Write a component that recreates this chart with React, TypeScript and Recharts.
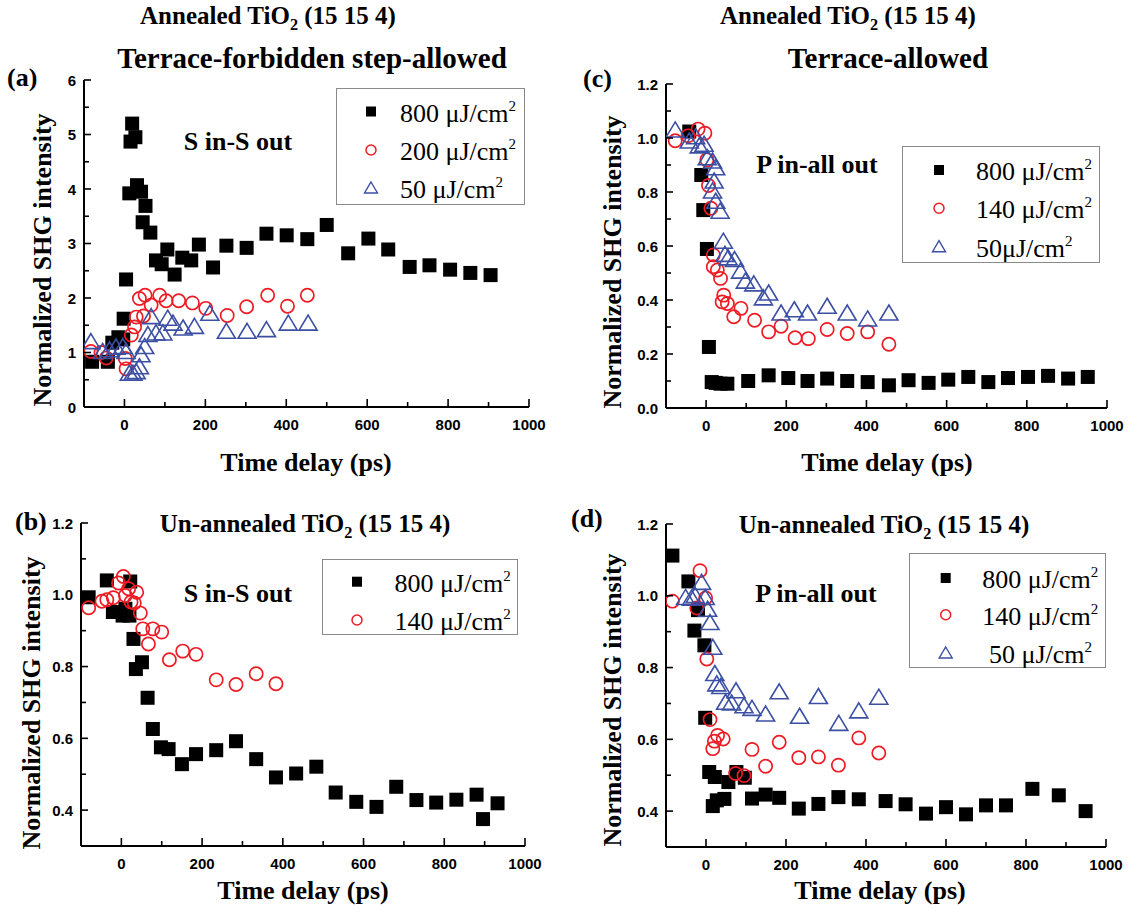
import React from 'react';
import { Legend, Scatter, ScatterChart, XAxis, YAxis } from 'recharts';

const RED = '#ED1C24';
const BLUE = '#3B4FA3';
const SERIF = '"Liberation Serif", "Times New Roman", serif';
const SANS = '"Liberation Sans", Arial, sans-serif';

// room reserved for the axes; subtracted from the panel margins below
const Y_AXIS_W = 40;
const X_AXIS_H = 30;

// shared time axis (ps)
const TIME_TICKS = [0, 100, 200, 300, 400, 500, 600, 700, 800, 900, 1000];
const A_Y_TICKS = [0, 0.5, 1, 1.5, 2, 2.5, 3, 3.5, 4, 4.5, 5, 5.5, 6];
const C_Y_TICKS = [0, 0.1, 0.2, 0.3, 0.4, 0.5, 0.6, 0.7, 0.8, 0.9, 1.0, 1.1, 1.2];
const BD_Y_TICKS = [0.4, 0.5, 0.6, 0.7, 0.8, 0.9, 1.0, 1.1, 1.2];

// (a) annealed, S in-S out
const A_T_800 = [-80, -41, -30, -15, -3, -2, 4, 12, 15, 19, 27, 31, 41, 45, 52, 64, 78, 92, 106, 124, 143, 165, 184, 219, 252, 302, 351, 401, 452, 500, 553, 603, 652, 705, 754, 805, 855, 905];
const A_I_800 = [0.83, 0.83, 1.18, 1.28, 1.24, 1.62, 2.34, 3.92, 4.87, 5.2, 4.95, 4.07, 3.95, 3.39, 3.69, 3.2, 2.69, 2.62, 2.89, 2.43, 2.74, 2.69, 2.98, 2.56, 2.96, 2.92, 3.18, 3.15, 3.08, 3.34, 2.82, 3.09, 2.89, 2.57, 2.6, 2.52, 2.46, 2.42];
const A_T_200 = [-83, -58, -45, 2, 4, 17, 25, 29, 37, 47, 51, 66, 87, 103, 134, 168, 201, 254, 302, 354, 403, 452];
const A_I_200 = [1.02, 1.0, 0.9, 0.89, 0.7, 1.32, 1.47, 1.65, 1.99, 1.67, 2.05, 1.87, 2.05, 1.95, 1.95, 1.91, 1.81, 1.68, 1.84, 2.05, 1.85, 2.05];
const A_T_50 = [-83, -54, -37, -21, -4, 4, 12, 21, 29, 37, 41, 50, 58, 66, 78, 95, 107, 120, 145, 173, 211, 252, 303, 351, 405, 454];
const A_I_50 = [1.19, 1.01, 1.04, 1.09, 1.1, 1.01, 0.61, 0.61, 0.64, 0.73, 0.95, 1.1, 1.32, 1.65, 1.35, 1.35, 1.62, 1.53, 1.44, 1.47, 1.71, 1.38, 1.38, 1.41, 1.53, 1.53];

// (c) annealed, P in-all out
const C_T_800 = [-42, -12, -7, 2, 7, 14, 24, 36, 53, 105, 156, 205, 253, 302, 352, 403, 456, 505, 555, 604, 654, 704, 753, 803, 853, 903, 952];
const C_I_800 = [1.024, 0.863, 0.733, 0.589, 0.226, 0.096, 0.093, 0.09, 0.09, 0.1, 0.121, 0.111, 0.1, 0.109, 0.1, 0.096, 0.084, 0.103, 0.093, 0.105, 0.115, 0.096, 0.111, 0.115, 0.119, 0.109, 0.115];
const C_T_140 = [-77, -45, -20, -3, 2, 6, 12, 18, 18, 28, 36, 44, 40, 53, 69, 87, 121, 156, 187, 222, 255, 302, 352, 403, 456];
const C_I_140 = [0.99, 1.008, 1.033, 1.018, 0.919, 0.824, 0.74, 0.567, 0.523, 0.511, 0.48, 0.418, 0.393, 0.387, 0.338, 0.369, 0.325, 0.282, 0.303, 0.26, 0.257, 0.291, 0.276, 0.282, 0.236];
const C_T_50 = [-77, -42, -26, -17, -5, 3, 16, 24, 20, 16, 24, 35, 43, 47, 55, 71, 86, 98, 119, 143, 156, 187, 220, 253, 302, 352, 403, 456];
const C_I_50 = [1.028, 0.987, 1.003, 0.969, 0.975, 0.925, 0.913, 0.888, 0.839, 0.802, 0.764, 0.727, 0.616, 0.567, 0.554, 0.548, 0.505, 0.468, 0.458, 0.406, 0.424, 0.35, 0.362, 0.35, 0.375, 0.35, 0.328, 0.35];

// (b) un-annealed, S in-S out
const B_T_800 = [-81, -36, -21, 3, 10, 22, 20, 30, 36, 51, 65, 78, 98, 117, 150, 185, 235, 284, 334, 383, 433, 483, 531, 582, 632, 681, 731, 780, 830, 880, 896, 932];
const B_I_800 = [0.993, 1.04, 0.952, 0.942, 0.961, 1.037, 0.942, 0.877, 0.793, 0.812, 0.713, 0.626, 0.575, 0.57, 0.528, 0.556, 0.567, 0.592, 0.542, 0.491, 0.502, 0.521, 0.449, 0.423, 0.409, 0.465, 0.428, 0.421, 0.429, 0.443, 0.375, 0.419];
const B_T_140 = [-81, -48, -36, -20, -7, 5, 10, 18, 24, 32, 38, 47, 53, 67, 78, 100, 119, 152, 185, 235, 284, 334, 383];
const B_I_140 = [0.964, 0.982, 0.986, 0.992, 1.033, 1.051, 0.998, 1.017, 0.98, 0.977, 1.007, 0.949, 0.905, 0.863, 0.905, 0.896, 0.819, 0.843, 0.834, 0.763, 0.75, 0.78, 0.752];

// (d) un-annealed, P in-all out
const D_T_800 = [-84, -44, -29, -20, -4, -2, 8, 22, 17, 27, 46, 56, 76, 97, 115, 149, 183, 232, 281, 331, 382, 449, 499, 550, 600, 650, 700, 750, 816, 882, 949];
const D_I_800 = [1.112, 1.04, 0.903, 0.96, 0.862, 0.66, 0.509, 0.495, 0.414, 0.43, 0.434, 0.481, 0.509, 0.493, 0.435, 0.446, 0.437, 0.407, 0.42, 0.439, 0.433, 0.428, 0.419, 0.393, 0.411, 0.391, 0.416, 0.416, 0.462, 0.444, 0.4];
const D_T_140 = [-84, -23, -15, -1, 2, 10, 17, 21, 29, 43, 74, 95, 115, 149, 183, 232, 281, 331, 382, 432];
const D_I_140 = [0.985, 0.966, 1.07, 0.994, 0.824, 0.655, 0.574, 0.595, 0.611, 0.601, 0.505, 0.499, 0.572, 0.525, 0.592, 0.549, 0.551, 0.528, 0.604, 0.562];
const D_T_50 = [-51, -36, -27, -11, -2, 4, 10, 17, 22, 27, 37, 49, 64, 75, 95, 115, 149, 183, 234, 281, 332, 382, 432];
const D_I_50 = [0.994, 0.992, 0.999, 1.036, 0.994, 0.961, 0.924, 0.855, 0.782, 0.753, 0.746, 0.702, 0.7, 0.734, 0.692, 0.685, 0.669, 0.731, 0.663, 0.718, 0.643, 0.678, 0.716];

const zip = (xs: number[], ys: number[]) => xs.map((x, i) => ({ x, y: ys[i] }));

type Kind = 'square' | 'circle' | 'triangle';

const SquareDot = (p: any) => <rect x={p.cx - 7} y={p.cy - 7} width={14} height={14} fill="#000" />;
const CircleDot = (p: any) => <circle cx={p.cx} cy={p.cy} r={6.6} fill="none" stroke={RED} strokeWidth={1.7} />;
const TriangleDot = (p: any) => (
  <path d={`M${p.cx},${p.cy - 8.5}L${p.cx + 9},${p.cy + 6.5}L${p.cx - 9},${p.cy + 6.5}Z`} fill="none" stroke={BLUE} strokeWidth={1.6} />
);
const SHAPES: Record<Kind, (p: any) => React.ReactElement> = { square: SquareDot, circle: CircleDot, triangle: TriangleDot };

function LegendMark({ kind, x, y }: { kind: Kind; x: number; y: number }) {
  if (kind === 'square') return <rect x={x - 5} y={y - 5} width={10} height={10} fill="#000" />;
  if (kind === 'circle') return <circle cx={x} cy={y} r={5} fill="none" stroke={RED} strokeWidth={1.5} />;
  return <path d={`M${x},${y - 6}L${x + 6.5},${y + 5}L${x - 6.5},${y + 5}Z`} fill="none" stroke={BLUE} strokeWidth={1.4} />;
}

function TimeTick({ x, y, payload }: any) {
  const v = payload.value;
  const major = v % 200 === 0;
  return (
    <g>
      <line x1={x} y1={y} x2={x} y2={y - (major ? 8 : 5)} stroke="#000" strokeWidth={1.6} />
      {major && (
        <text x={x} y={y + 23} textAnchor="middle" fontFamily={SANS} fontWeight="bold" fontSize={15} fill="#000">
          {v}
        </text>
      )}
    </g>
  );
}

const makeYTick = (isMajor: (v: number) => boolean, fmt: (v: number) => string) =>
  function YTick({ x, y, payload }: any) {
    const v = payload.value;
    const major = isMajor(v);
    return (
      <g>
        <line x1={x} y1={y} x2={x + (major ? 7 : 5)} y2={y} stroke="#000" strokeWidth={1.6} />
        {major && (
          <text x={x - 8} y={y + 5.5} textAnchor="end" fontFamily={SANS} fontWeight="bold" fontSize={15} fill="#000">
            {fmt(v)}
          </text>
        )}
      </g>
    );
  };

const tenthEven = (v: number) => Math.round(v * 10) % 2 === 0;
const A_YTICK = makeYTick((v) => Number.isInteger(v), (v) => String(v));
const FINE_YTICK = makeYTick(tenthEven, (v) => v.toFixed(1));

interface SeriesDef {
  label: string;
  kind: Kind;
  points: { x: number; y: number }[];
}

interface LegendDef {
  left: number;
  top: number;
  width: number;
  height: number;
  rows: number[];
  markX: number;
  textX: number[];
}

function LegendBox({ series, box }: { series: SeriesDef[]; box: LegendDef }) {
  return (
    <svg width={box.width} height={box.height} style={{ display: 'block' }}>
      <rect x={0.5} y={0.5} width={box.width - 1} height={box.height - 1} fill="#fff" stroke="#8a8a8a" strokeWidth={1} />
      {series.map((s, i) => (
        <g key={s.label}>
          <LegendMark kind={s.kind} x={box.markX} y={box.rows[i]} />
          <text x={box.textX[i]} y={box.rows[i] + 10} fontFamily={SERIF} fontSize={26} fill="#000">
            {s.label}
            <tspan dy={-11} fontSize={15}>2</tspan>
          </text>
        </g>
      ))}
    </svg>
  );
}

interface PanelProps {
  left: number;
  top: number;
  width: number;
  height: number;
  // plot-area insets (page pixels inside the panel box)
  plot: { top: number; right: number; bottom: number; left: number };
  yDomain: [number, number];
  yTicks: number[];
  yTick: any;
  series: SeriesDef[];
  legend: LegendDef;
}

function Panel({ left, top, width, height, plot, yDomain, yTicks, yTick, series, legend }: PanelProps) {
  const axisLine = { stroke: '#000', strokeWidth: 2 };
  const margin = { top: plot.top, right: plot.right, bottom: plot.bottom - X_AXIS_H, left: plot.left - Y_AXIS_W };
  return (
    <div style={{ position: 'absolute', left, top }}>
      <ScatterChart width={width} height={height} margin={margin}>
        <XAxis
          type="number"
          dataKey="x"
          domain={[-100, 1000]}
          ticks={TIME_TICKS}
          interval={0}
          allowDataOverflow
          height={X_AXIS_H}
          tickSize={0}
          tickMargin={0}
          tickLine={false}
          axisLine={axisLine}
          tick={TimeTick}
        />
        <YAxis
          type="number"
          dataKey="y"
          domain={yDomain}
          ticks={yTicks}
          interval={0}
          allowDataOverflow
          width={Y_AXIS_W}
          tickSize={0}
          tickMargin={0}
          tickLine={false}
          axisLine={axisLine}
          tick={yTick}
        />
        {series.map((s) => (
          <Scatter key={s.label} name={s.label} data={s.points} shape={SHAPES[s.kind]} isAnimationActive={false} />
        ))}
        <Legend
          layout="horizontal"
          verticalAlign="middle"
          align="center"
          width={legend.width}
          height={legend.height}
          wrapperStyle={{ left: legend.left, top: legend.top, width: legend.width, height: legend.height }}
          content={() => <LegendBox series={series} box={legend} />}
        />
      </ScatterChart>
    </div>
  );
}

const PANEL_A: SeriesDef[] = [
  { label: '800 μJ/cm', kind: 'square', points: zip(A_T_800, A_I_800) },
  { label: '200 μJ/cm', kind: 'circle', points: zip(A_T_200, A_I_200) },
  { label: '50 μJ/cm', kind: 'triangle', points: zip(A_T_50, A_I_50) },
];
const PANEL_C: SeriesDef[] = [
  { label: '800 μJ/cm', kind: 'square', points: zip(C_T_800, C_I_800) },
  { label: '140 μJ/cm', kind: 'circle', points: zip(C_T_140, C_I_140) },
  { label: '50μJ/cm', kind: 'triangle', points: zip(C_T_50, C_I_50) },
];
const PANEL_B: SeriesDef[] = [
  { label: '800 μJ/cm', kind: 'square', points: zip(B_T_800, B_I_800) },
  { label: '140 μJ/cm', kind: 'circle', points: zip(B_T_140, B_I_140) },
];
const PANEL_D: SeriesDef[] = [
  { label: '800 μJ/cm', kind: 'square', points: zip(D_T_800, D_I_800) },
  { label: '140 μJ/cm', kind: 'circle', points: zip(D_T_140, D_I_140) },
  { label: '50 μJ/cm', kind: 'triangle', points: zip(D_T_50, D_I_50) },
];

const boldText = { fontFamily: SERIF, fontWeight: 'bold' as const, fill: '#000' };

function Sample({ x, y, size, prefix }: { x: number; y: number; size: number; prefix: string }) {
  return (
    <text x={x} y={y} fontSize={size} textAnchor="middle" {...boldText}>
      {prefix} TiO
      <tspan dy={6} fontSize={size * 0.65}>2</tspan>
      <tspan dy={-6}> (15 15 4)</tspan>
    </text>
  );
}

function YLabel({ x, y }: { x: number; y: number }) {
  return (
    <text x={x} y={y} transform={`rotate(-90, ${x}, ${y})`} textAnchor="middle" fontSize={26} {...boldText}>
      Normalized SHG intensity
    </text>
  );
}

function Annotations() {
  return (
    <svg width={1129} height={913} style={{ position: 'absolute', left: 0, top: 0, pointerEvents: 'none' }}>
      <Sample x={268} y={24} size={25} prefix="Annealed" />
      <text x={312} y={68} fontSize={29} textAnchor="middle" {...boldText}>Terrace-forbidden step-allowed</text>
      <Sample x={848} y={24} size={25} prefix="Annealed" />
      <text x={888} y={68} fontSize={29} textAnchor="middle" {...boldText}>Terrace-allowed</text>
      <Sample x={305} y={532} size={25} prefix="Un-annealed" />
      <Sample x={884} y={533} size={25} prefix="Un-annealed" />

      <text x={7} y={86} fontSize={26} {...boldText}>(a)</text>
      <text x={583} y={87} fontSize={26} {...boldText}>(c)</text>
      <text x={15} y={530} fontSize={26} {...boldText}>(b)</text>
      <text x={571} y={527} fontSize={26} {...boldText}>(d)</text>

      <text x={238} y={150} fontSize={26} textAnchor="middle" {...boldText}>S in-S out</text>
      <text x={238} y={602} fontSize={26} textAnchor="middle" {...boldText}>S in-S out</text>
      <text x={817} y={173} fontSize={26} textAnchor="middle" {...boldText}>P in-all out</text>
      <text x={816} y={602} fontSize={26} textAnchor="middle" {...boldText}>P in-all out</text>

      <text x={306} y={471} fontSize={26} textAnchor="middle" {...boldText}>Time delay (ps)</text>
      <text x={887} y={471} fontSize={26} textAnchor="middle" {...boldText}>Time delay (ps)</text>
      <text x={303} y={899} fontSize={26} textAnchor="middle" {...boldText}>Time delay (ps)</text>
      <text x={880} y={899} fontSize={26} textAnchor="middle" {...boldText}>Time delay (ps)</text>

      <YLabel x={51} y={260} />
      <YLabel x={621} y={262} />
      <YLabel x={40} y={703} />
      <YLabel x={621} y={700} />
    </svg>
  );
}

export default function App() {
  return (
    <div style={{ position: 'absolute', left: 0, top: 0, width: 1129, height: 913, background: '#fff', overflow: 'hidden' }}>
      <Panel
        left={0}
        top={0}
        width={560}
        height={480}
        plot={{ top: 80, right: 31, bottom: 73, left: 84 }}
        yDomain={[0, 6]}
        yTicks={A_Y_TICKS}
        yTick={A_YTICK}
        series={PANEL_A}
        legend={{ left: 336, top: 88, width: 189, height: 117, rows: [23.5, 62, 100], markX: 35, textX: [64, 64, 64] }}
      />
      <Panel
        left={565}
        top={0}
        width={564}
        height={480}
        plot={{ top: 84, right: 22, bottom: 72, left: 101 }}
        yDomain={[0, 1.2]}
        yTicks={C_Y_TICKS}
        yTick={FINE_YTICK}
        series={PANEL_C}
        legend={{ left: 337, top: 146, width: 198, height: 117, rows: [24, 62.3, 100.7], markX: 37, textX: [74, 74, 74] }}
      />
      <Panel
        left={0}
        top={480}
        width={560}
        height={433}
        plot={{ top: 43, right: 35, bottom: 67, left: 81 }}
        yDomain={[0.3, 1.2]}
        yTicks={BD_Y_TICKS}
        yTick={FINE_YTICK}
        series={PANEL_B}
        legend={{ left: 322, top: 79, width: 196, height: 76, rows: [22.7, 61], markX: 35, textX: [72.6, 72.6] }}
      />
      <Panel
        left={565}
        top={480}
        width={564}
        height={433}
        plot={{ top: 44, right: 23, bottom: 66, left: 101 }}
        yDomain={[0.3, 1.2]}
        yTicks={BD_Y_TICKS}
        yTick={FINE_YTICK}
        series={PANEL_D}
        legend={{ left: 344, top: 73, width: 197, height: 115, rows: [25, 61.7, 100], markX: 36.7, textX: [73.3, 73.3, 80] }}
      />
      <Annotations />
    </div>
  );
}
